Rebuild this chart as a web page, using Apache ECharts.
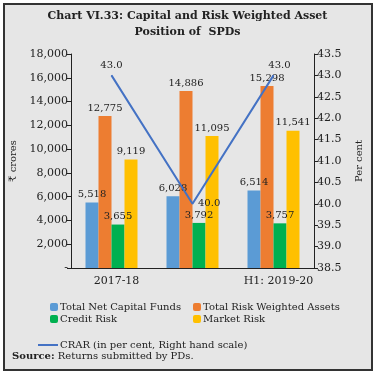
<!DOCTYPE html>
<html>
<head>
<meta charset="utf-8">
<script src="https://cdn.jsdelivr.net/npm/echarts@6/dist/echarts.min.js"></script>
<style>
    html, body { margin: 0; padding: 0; background: #fff; }
    #frame {
        position: absolute; left: 3px; top: 3px;
        width: 366px; height: 364px;
        border: 2px solid #333;
        background: #e6e6e6;
    }
    #main { position: absolute; left: -5px; top: -5px; width: 375px; height: 375px; }
</style>
</head>
<body>
<div id="frame"><div id="main"></div></div>
<script>
    const categories = ['2017-18', '2018-19', 'H1: 2019-20'];
    const netCapital = [5518, 6028, 6514];
    const riskWeighted = [12775, 14886, 15298];
    const creditRisk = [3655, 3792, 3757];
    const marketRisk = [9119, 11095, 11541];
    const crar = [43.0, 40.0, 43.0];

    const font = 'DejaVu Serif';
    const fmt = v => v.toLocaleString('en-US');

    function barSeries(name, data, color) {
        return {
            name: name,
            type: 'bar',
            data: data,
            barWidth: 13,
            barGap: '0%',
            itemStyle: { color: color },
            label: {
                show: true,
                position: 'top',
                distance: 3,
                color: '#222',
                fontFamily: font,
                fontSize: 10,
                formatter: p => fmt(p.value)
            }
        };
    }

    // label placement for the CRAR points
    const crarLabels = [
        { position: 'top' },
        { position: 'right', distance: 5 },
        { position: 'top', offset: [6, 0] }
    ];
    const crarData = crar.map((v, i) => ({ value: v, label: crarLabels[i] }));

    const chart = echarts.init(document.getElementById('main'));
    const axisText = { color: '#222', fontFamily: font, fontSize: 11 };
    const legendText = { fontFamily: font, fontSize: 10, color: '#222', padding: [0, 0, 0, -3] };
    const option = {
        animation: false,
        title: {
            text: 'Chart VI.33: Capital and Risk Weighted Asset\nPosition of  SPDs',
            left: 'center',
            top: 3,
            textStyle: { fontFamily: font, fontSize: 11, fontWeight: 'bold', color: '#222', lineHeight: 16 }
        },
        grid: { left: 71, right: 61, top: 54, bottom: 107 },
        legend: [
            {
                orient: 'vertical', left: 45, top: 297, itemGap: 2,
                itemWidth: 8, itemHeight: 8,
                data: ['Total Net Capital Funds', 'Credit Risk'],
                textStyle: legendText
            },
            {
                orient: 'vertical', left: 188, top: 297, itemGap: 2,
                itemWidth: 8, itemHeight: 8,
                data: ['Total Risk Weighted Assets', 'Market Risk'],
                textStyle: legendText
            },
            {
                left: 33, top: 335,
                itemWidth: 20, itemHeight: 2,
                data: [{ name: 'CRAR (in per cent, Right hand scale)', icon: 'rect' }],
                textStyle: legendText
            }
        ],
        xAxis: {
            type: 'category',
            data: categories,
            axisLine: { lineStyle: { color: '#222' } },
            axisTick: { length: 3, lineStyle: { color: '#222' } },
            axisLabel: Object.assign({ margin: 8, padding: [0, 0, 0, 10] }, axisText)
        },
        yAxis: [
            {
                type: 'value',
                min: 0, max: 18000, interval: 2000,
                name: '₹ crores',
                nameLocation: 'middle',
                nameGap: 49,
                nameTextStyle: { fontFamily: font, fontSize: 10, color: '#222' },
                axisLine: { show: true, lineStyle: { color: '#222' } },
                axisTick: { show: true, length: 4, lineStyle: { color: '#222' } },
                splitLine: { show: false },
                axisLabel: Object.assign({ margin: 3, formatter: v => v === 0 ? '-' : fmt(v) }, axisText)
            },
            {
                type: 'value',
                min: 38.5, max: 43.5, interval: 0.5,
                name: 'Per cent',
                nameLocation: 'middle',
                nameGap: 40,
                nameTextStyle: { fontFamily: font, fontSize: 10, color: '#222' },
                axisLine: { show: true, lineStyle: { color: '#222' } },
                axisTick: { show: true, length: 4, lineStyle: { color: '#222' } },
                splitLine: { show: false },
                axisLabel: Object.assign({ margin: 3, formatter: v => v.toFixed(1) }, axisText)
            }
        ],
        series: [
            barSeries('Total Net Capital Funds', netCapital, '#5b9bd5'),
            barSeries('Total Risk Weighted Assets', riskWeighted, '#ed7d31'),
            barSeries('Credit Risk', creditRisk, '#00b050'),
            barSeries('Market Risk', marketRisk, '#ffc000'),
            {
                name: 'CRAR (in per cent, Right hand scale)',
                type: 'line',
                yAxisIndex: 1,
                data: crarData,
                symbol: 'circle',
                symbolSize: 1,
                showSymbol: true,
                z: 5,
                lineStyle: { color: '#4472c4', width: 2 },
                itemStyle: { color: '#4472c4' },
                label: {
                    show: true,
                    color: '#222',
                    fontFamily: font,
                    fontSize: 10,
                    distance: 4,
                    formatter: p => p.value.toFixed(1)
                }
            }
        ],
        graphic: [
            {
                type: 'text',
                left: 12, top: 351,
                style: {
                    text: '{b|Source:} Returns submitted by PDs.',
                    rich: {
                        b: { fontFamily: font, fontSize: 10, fontWeight: 'bold', fill: '#222' }
                    },
                    fontFamily: font, fontSize: 10, fill: '#222'
                }
            }
        ]
    };
    chart.setOption(option);
</script>
</body>
</html>
